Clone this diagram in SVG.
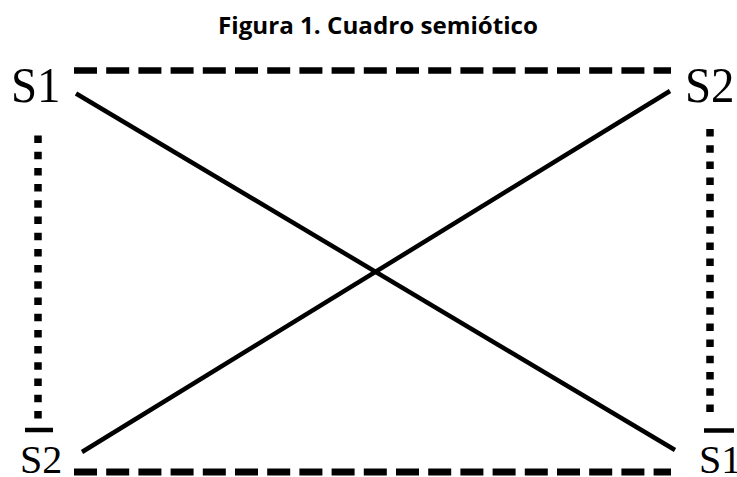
<svg xmlns="http://www.w3.org/2000/svg" width="737" height="477" viewBox="0 0 737 477">
<style>
.title{font-family:"Open Sans","Liberation Sans",sans-serif;font-weight:bold;font-size:23.5px;fill:#000}
.lbl{font-family:"Liberation Serif","DejaVu Serif",serif;fill:#000}
.dash{stroke:#000;fill:none;stroke-dasharray:23 9.2}
.dot{stroke:#000;fill:none;stroke-width:7.5;stroke-dasharray:7.5 8.7}
.diag{stroke:#000;fill:none;stroke-width:4.5}
.bar{stroke:#000;stroke-width:4.5}
</style>
<rect width="737" height="477" fill="#fff"/>
<text class="title" x="218" y="33.5" textLength="320" lengthAdjust="spacingAndGlyphs">Figura 1. Cuadro semiótico</text>
<g id="connectors">
<line class="dash" x1="74" y1="70.5" x2="671" y2="70.5" stroke-width="6.5"/>
<line class="dash" x1="74" y1="472" x2="671" y2="472" stroke-width="7"/>
<line class="dot" x1="38" y1="135.5" x2="38" y2="419"/>
<line class="dot" x1="710" y1="129" x2="710" y2="413"/>
<line class="diag" x1="76" y1="93.5" x2="675" y2="450"/>
<line class="diag" x1="82" y1="452" x2="670" y2="91"/>
</g>
<g id="node-s1-top">
<text class="lbl" transform="translate(11,102) scale(0.92,1)" font-size="51">S1</text>
</g>
<g id="node-s2-top">
<text class="lbl" transform="translate(685,102) scale(0.92,1)" font-size="51">S2</text>
</g>
<g id="node-s2-bottom">
<line class="bar" x1="25" y1="430" x2="53" y2="430"/>
<text class="lbl" x="20" y="473" font-size="40">S2</text>
</g>
<g id="node-s1-bottom">
<line class="bar" x1="704" y1="430.5" x2="734" y2="430.5"/>
<text class="lbl" x="699" y="473" font-size="40">S1</text>
</g>
</svg>
